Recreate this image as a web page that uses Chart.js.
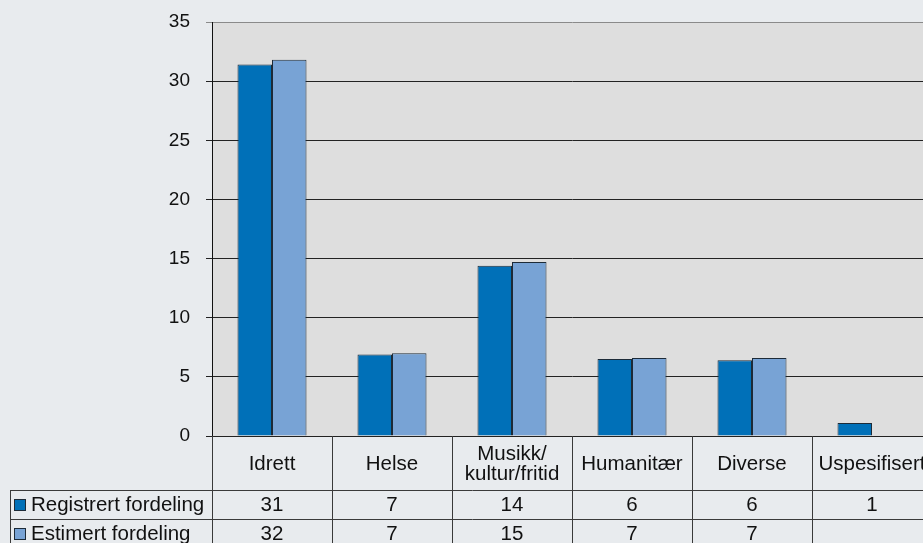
<!DOCTYPE html>
<html>
<head>
<meta charset="utf-8">
<script src="https://cdn.jsdelivr.net/npm/chart.js@4.4.1/dist/chart.umd.min.js"></script>
<style>
  html, body { margin: 0; padding: 0; background: #e8ebee; overflow: hidden; }
  #wrap { width: 935px; height: 543px; }
</style>
</head>
<body>
<div id="wrap"><canvas id="chart" width="935" height="543"></canvas></div>
<script>
// Registrert vs estimert fordeling per kategori - grouped bars with data table
const CATEGORIES = [['Idrett'], ['Helse'], ['Musikk/', 'kultur/fritid'], ['Humanitær'], ['Diverse'], ['Uspesifisert']];
const SERIES_NAMES = ['Registrert fordeling', 'Estimert fordeling'];
const REGISTRERT = [31.4, 6.9, 14.4, 6.5, 6.4, 1.1];
const ESTIMERT = [31.8, 7.0, 14.7, 6.6, 6.6, null];
const TABLE_REGISTRERT = ['31', '7', '14', '6', '6', '1'];
const TABLE_ESTIMERT = ['32', '7', '15', '7', '7', ''];
const Y_TICKS = [0, 5, 10, 15, 20, 25, 30, 35];

const FONT = '"Liberation Sans", Arial, Helvetica, sans-serif';
const COLORS = ['#0070b8', '#78a3d5'];

const backdrop = {
    id: 'backdrop',
    beforeDraw(chart) {
        const { ctx, chartArea: a } = chart;
        ctx.save();
        ctx.fillStyle = '#e8ebee';
        ctx.fillRect(0, 0, chart.width, chart.height);
        ctx.fillStyle = '#dedede';
        ctx.fillRect(a.left, a.top, a.right - a.left, a.bottom - a.top);
        ctx.restore();
    }
};

const dataTable = {
    id: 'dataTable',
    afterDraw(chart) {
        const { ctx, chartArea: a } = chart;
        const x = chart.scales.x;
        const n = CATEGORIES.length;
        const half = (x.getPixelForTick(1) - x.getPixelForTick(0)) / 2;
        const headBottom = a.bottom + 54;
        const row1 = headBottom + 29;
        const row2 = row1 + 29;
        const legendLeft = 10;
        ctx.save();
        ctx.strokeStyle = '#3a3a3a';
        ctx.lineWidth = 1;
        ctx.beginPath();
        for (let i = 0; i <= n; i++) {
            const px = Math.round(x.getPixelForTick(Math.min(i, n - 1)) + (i === n ? half : -half)) + 0.5;
            ctx.moveTo(px, a.bottom);
            ctx.lineTo(px, chart.height);
        }
        [headBottom, row1, row2].forEach(y => {
            ctx.moveTo(legendLeft, y + 0.5);
            ctx.lineTo(chart.width, y + 0.5);
        });
        ctx.moveTo(legendLeft + 0.5, headBottom);
        ctx.lineTo(legendLeft + 0.5, chart.height);
        ctx.stroke();

        ctx.fillStyle = '#111';
        ctx.font = '20.5px ' + FONT;
        ctx.textAlign = 'center';
        ctx.textBaseline = 'middle';
        CATEGORIES.forEach((lines, i) => {
            const cx = x.getPixelForTick(i);
            const mid = (a.bottom + headBottom) / 2 + 1;
            lines.forEach((t, j) => {
                ctx.fillText(t, cx, mid + (j - (lines.length - 1) / 2) * 20);
            });
            ctx.fillText(TABLE_REGISTRERT[i], cx, (headBottom + row1) / 2 + 1);
            ctx.fillText(TABLE_ESTIMERT[i], cx, (row1 + row2) / 2 + 1);
        });

        ctx.textAlign = 'left';
        [[headBottom, row1], [row1, row2]].forEach(([t, b], k) => {
            const my = (t + b) / 2;
            ctx.fillStyle = COLORS[k];
            ctx.fillRect(legendLeft + 4, Math.round(my - 6), 12, 12);
            ctx.strokeStyle = '#1d2b38';
            ctx.strokeRect(legendLeft + 4.5, Math.round(my - 6) + 0.5, 11, 11);
            ctx.fillStyle = '#111';
            ctx.fillText(SERIES_NAMES[k], legendLeft + 21, my + 1);
        });
        ctx.restore();
    }
};

new Chart(document.getElementById('chart').getContext('2d'), {
    type: 'bar',
    data: {
        labels: CATEGORIES.map(c => c.join(' ')),
        datasets: [
            { label: SERIES_NAMES[0], data: REGISTRERT, backgroundColor: COLORS[0], borderColor: '#1d2b38', borderWidth: 1 },
            { label: SERIES_NAMES[1], data: ESTIMERT, backgroundColor: COLORS[1], borderColor: '#1d2b38', borderWidth: 1 }
        ]
    },
    options: {
        responsive: false,
        animation: false,
        datasets: { bar: { categoryPercentage: 0.575, barPercentage: 1 } },
        layout: { padding: { top: 22, bottom: 107, left: 0, right: 3 } },
        plugins: { legend: { display: false }, tooltip: { enabled: false } },
        scales: {
            x: { display: false },
            y: {
                min: 0, max: 35,
                afterFit(s) { s.width = 212; s.paddingTop = 0; s.paddingBottom = 0; },
                afterBuildTicks(s) { s.ticks = Y_TICKS.map(v => ({ value: v })); },
                border: { display: true, color: '#111', width: 1 },
                grid: {
                    color: c => (c.tick && c.tick.value === 35) ? '#8a8a8a' : '#222',
                    lineWidth: 1,
                    tickLength: 6
                },
                ticks: { padding: 16, color: '#111', font: { family: FONT, size: 19 } }
            }
        }
    },
    plugins: [backdrop, dataTable]
});
</script>
</body>
</html>
